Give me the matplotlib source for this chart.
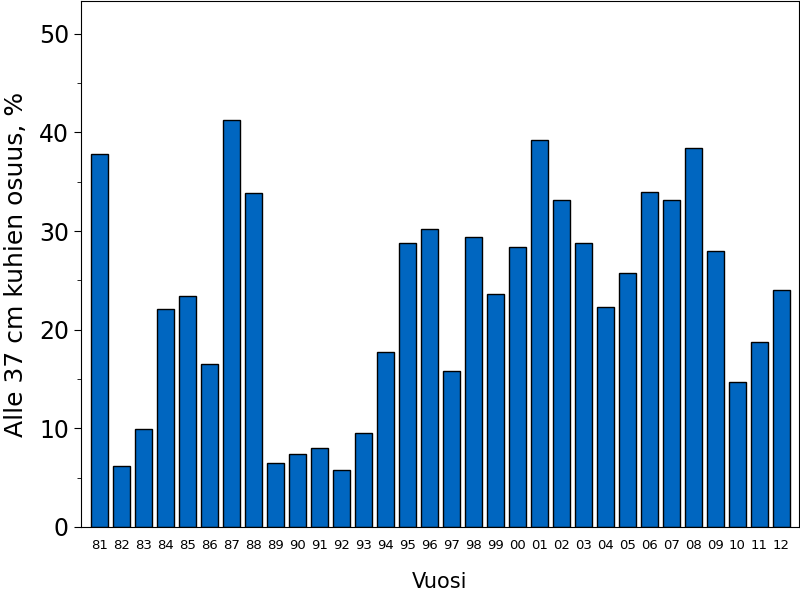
import matplotlib
matplotlib.use("Agg")
import matplotlib.pyplot as plt
import numpy as np
from matplotlib.ticker import MultipleLocator

years = ['81', '82', '83', '84', '85', '86', '87', '88', '89', '90', '91', '92',
         '93', '94', '95', '96', '97', '98', '99', '00', '01', '02', '03', '04',
         '05', '06', '07', '08', '09', '10', '11', '12']
share = [37.8, 6.2, 9.9, 22.1, 23.4, 16.5, 41.3, 33.9, 6.5, 7.4, 8.0, 5.8,
         9.5, 17.7, 28.8, 30.2, 15.8, 29.4, 23.6, 28.4, 39.2, 33.1, 28.8, 22.3,
         25.7, 34.0, 33.1, 38.4, 28.0, 14.7, 18.8, 24.0]

fig = plt.figure(figsize=(8, 6), dpi=100)
ax = fig.add_axes([0.101, 0.1217, 0.898, 0.8763])

x = np.arange(len(years))
ax.bar(x, share, width=0.77, color='#0066c0', edgecolor='black', linewidth=1)

ax.set_xlim(-0.86, len(years) - 1 + 0.82)
ax.set_ylim(0, 53.3)
ax.set_xticks(x)
ax.set_xticklabels(years, fontsize=9.5)
ax.tick_params(axis='x', length=0, pad=9)
ax.yaxis.set_major_locator(MultipleLocator(10))
ax.yaxis.set_minor_locator(MultipleLocator(5))
ax.tick_params(axis='y', which='major', length=5, labelsize=17)
ax.tick_params(axis='y', which='minor', length=3)
ax.set_ylabel("Alle 37 cm kuhien osuus, %", fontsize=18, labelpad=8)
ax.set_xlabel("Vuosi", fontsize=15, labelpad=14)

fig.savefig("out.png", dpi=100)
